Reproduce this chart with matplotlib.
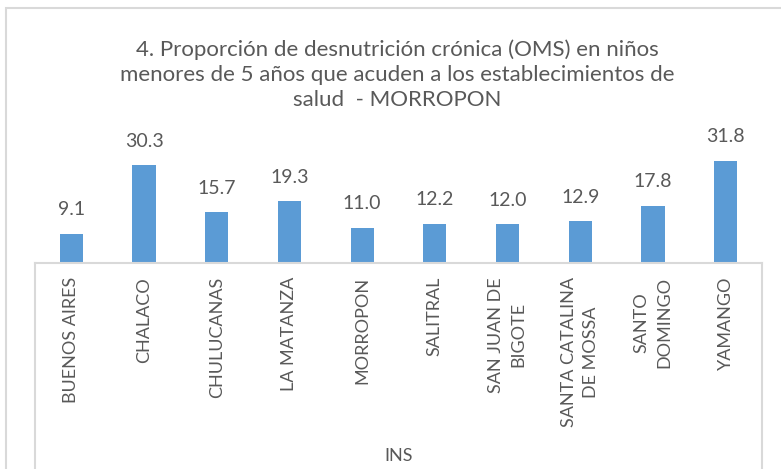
import matplotlib.pyplot as plt
import matplotlib.transforms as mtransforms
from matplotlib.patches import Rectangle

plt.rcParams['font.family'] = ['Lato', 'DejaVu Sans']

categories = ["BUENOS AIRES", "CHALACO", "CHULUCANAS", "LA MATANZA", "MORROPON",
              "SALITRAL", "SAN JUAN DE\nBIGOTE", "SANTA CATALINA\nDE MOSSA",
              "SANTO\nDOMINGO", "YAMANGO"]
values = [9.1, 30.3, 15.7, 19.3, 11.0, 12.2, 12.0, 12.9, 17.8, 31.8]
group_label = "INS"
title = ("4. Proporción de desnutrición crónica (OMS) en niños\n"
         "menores de 5 años que acuden a los establecimientos de\n"
         "salud  - MORROPON")

W, H = 781, 469
bar_color = "#5B9BD5"
text_color = "#595959"
line_color = "#D9D9D9"

fig = plt.figure(figsize=(W / 100, H / 100), dpi=100)

# outer chart border
fig.patches.append(Rectangle((5.5 / W, -0.1), 1.2, 1 - 8.5 / H + 0.1,
                             transform=fig.transFigure, fill=False,
                             edgecolor=line_color, linewidth=1.5))

fig.text(397 / W, 1 - 75 / H, title, ha="center", va="center",
         fontsize=16, color=text_color, linespacing=1.32)

left, right, base = 35 / W, 762 / W, (H - 263) / H
ymax = 35
ax = fig.add_axes([left, base, right - left, ymax * 3.22 / H])
x = range(len(values))
ax.bar(x, values, width=0.32, color=bar_color)
ax.set_xlim(-0.5, len(values) - 0.5)
ax.set_ylim(0, ymax)
for s in ax.spines.values():
    s.set_visible(False)
ax.set_yticks([])
ax.set_xticks([])
for i, v in enumerate(values):
    ax.annotate(f"{v:.1f}", (i, v), xytext=(0, 11), textcoords="offset points",
                ha="center", va="bottom", fontsize=14, color=text_color,
                annotation_clip=False)

# category axis box
box = fig.add_axes([left, -0.05, right - left, base + 0.05])
box.set_xlim(-0.5, len(values) - 0.5)
box.set_ylim(0, 1)
for side in ["left", "right", "top"]:
    box.spines[side].set_color(line_color)
    box.spines[side].set_linewidth(1.5)
box.spines["bottom"].set_visible(False)
box.set_xticks([])
box.set_yticks([])
box.patch.set_alpha(0)

trans = mtransforms.blended_transform_factory(box.transData, fig.transFigure)
for i, c in enumerate(categories):
    box.text(i, 1 - 277 / H, c, transform=trans, rotation=90,
             ha="center", va="top", multialignment="center",
             fontsize=13, color=text_color, linespacing=1.5)

fig.text((left + right) / 2, 1 - 456 / H, group_label, ha="center", va="center",
         fontsize=13, color=text_color)

fig.savefig("out.png", dpi=100)
